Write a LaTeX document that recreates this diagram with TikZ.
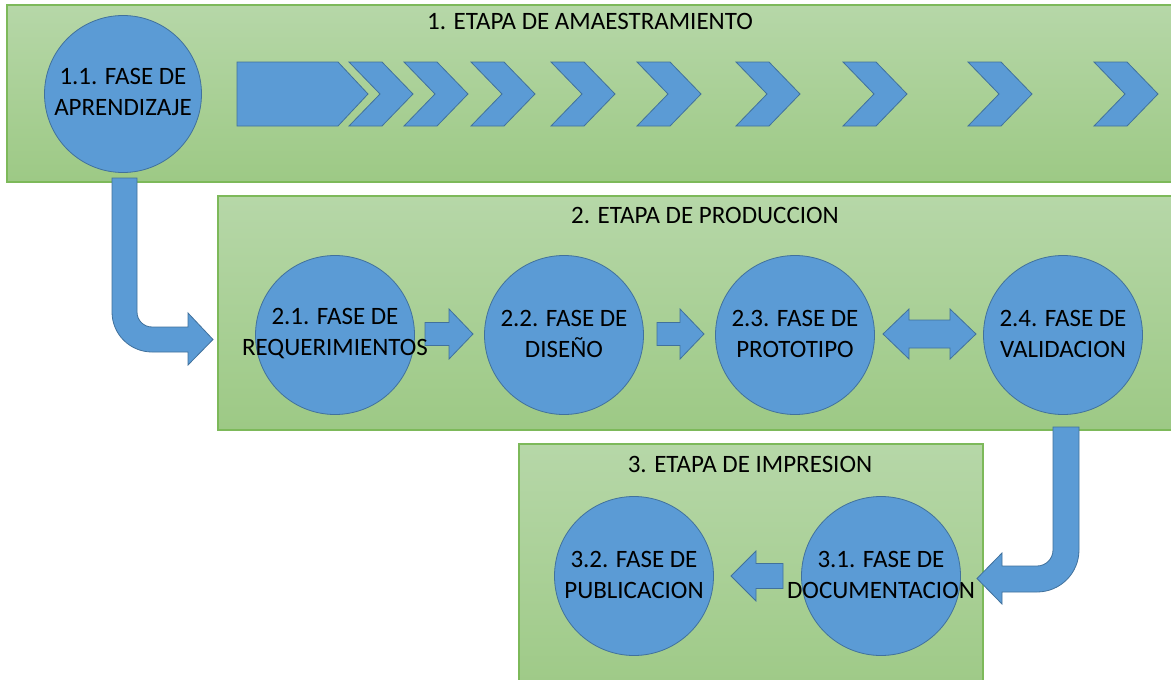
\documentclass[tikz,border=0pt]{standalone}
\usepackage{fontspec}
\setmainfont{Carlito}
\usetikzlibrary{calc}
\definecolor{cfill}{HTML}{5B9BD5}
\definecolor{cline}{HTML}{41719C}
\definecolor{gtop}{HTML}{B6D7A8}
\definecolor{gbot}{HTML}{9DC985}
\definecolor{gline}{HTML}{7DB95A}
\tikzset{
  stage/.style={rectangle, top color=gtop, bottom color=gbot, draw=gline, line width=1.2pt, inner sep=0pt},
  phase/.style={circle, fill=cfill, draw=cline, line width=0.8pt, minimum size=159pt, inner sep=0pt},
  ptext/.style={align=center, font=\fontsize{25}{31}\selectfont, inner sep=0pt, text=black},
  ttext/.style={font=\fontsize{25}{31}\selectfont, inner sep=0pt, text=black, anchor=base},
  blockarrow/.style={fill=cfill, draw=cline, line width=0.8pt, line join=miter},
}
% straight block arrow: start x, head base x, tip x, centre y, shaft half, head half
\newcommand\blkarrow[6]{%
  \draw[blockarrow] (#1,#4-#5) -- (#2,#4-#5) -- (#2,#4-#6) -- (#3,#4) -- (#2,#4+#6) -- (#2,#4+#5) -- (#1,#4+#5) -- cycle;}
\begin{document}
\begin{tikzpicture}[x=1pt,y=-1pt]
\useasboundingbox (0,0) rectangle (1171,680);
\clip (0,0) rectangle (1171,680);
\fill[white] (0,0) rectangle (1171,680);

% stages
\node[stage, minimum width=1170pt, minimum height=177pt] (s1) at (592,93.5) {};
\node[stage, minimum width=970pt, minimum height=234pt] (s2) at (703,313) {};
\node[stage, minimum width=464pt, minimum height=258pt] (s3) at (751,573) {};

\node[ttext] (t1) at (590,29) {1. ETAPA DE AMAESTRAMIENTO};
\node[ttext] (t2) at (705,223) {2. ETAPA DE PRODUCCION};
\node[ttext] (t3) at (750,472) {3. ETAPA DE IMPRESION};

% stage 1 arrows
\draw[blockarrow] (237,62) -- (338,62) -- (368,94) -- (338,126) -- (237,126) -- cycle;
\foreach \x in {349,404,471,551,637,736,843,968,1094}
  \draw[blockarrow] (\x,62) -- (\x+33,62) -- (\x+64,94) -- (\x+33,126) -- (\x,126) -- (\x+31,94) -- cycle;

% circles
\node[phase, minimum size=157pt] (c11) at (123,94) {};
\node[phase] (c21) at (335,335) {};
\node[phase] (c22) at (564,335) {};
\node[phase] (c23) at (795,335) {};
\node[phase] (c24) at (1063,335) {};
\node[phase] (c31) at (881,576) {};
\node[phase] (c32) at (634,576) {};

% straight arrows
\blkarrow{425}{449}{473}{334}{11.5}{25}
\blkarrow{657}{680}{704}{334}{11.5}{25}
\blkarrow{783}{756}{731}{576}{12.5}{25}
\draw[blockarrow] (883,334) -- (909,309) -- (909,320) -- (950,320) -- (950,309) -- (976,334)
  -- (950,359) -- (950,348) -- (909,348) -- (909,359) -- cycle;

% bent arrow 1 (from 1.1 to stage 2)
\draw[blockarrow] (112,178) -- (112,312) arc[start angle=180, end angle=90, radius=40]
  -- (188,352) -- (188,365) -- (213,339.5) -- (188,313) -- (188,327) -- (152,327)
  arc[start angle=90, end angle=180, radius=15] -- (137,178) -- cycle;

% bent arrow 2 (from stage 2 to 3.1)
\draw[blockarrow] (1053,427) -- (1079,427) -- (1079,550) arc[start angle=0, end angle=90, radius=42]
  -- (1002,592) -- (1002,604) -- (977,578.5) -- (1002,553) -- (1002,566) -- (1037,566)
  arc[start angle=90, end angle=0, radius=16] -- cycle;

% circle texts
\node[ptext, yshift=2pt] (l11) at (c11) {1.1. FASE DE\\APRENDIZAJE};
\node[ptext, yshift=1.5pt] (l21) at (c21) {2.1. FASE DE\\REQUERIMIENTOS};
\node[ptext, yshift=1.5pt] (l22) at (c22) {2.2. FASE DE\\DISEÑO};
\node[ptext, yshift=1.5pt] (l23) at (c23) {2.3. FASE DE\\PROTOTIPO};
\node[ptext, yshift=1.5pt] (l24) at (c24) {2.4. FASE DE\\VALIDACION};
\node[ptext, yshift=1pt] (l31) at (c31) {3.1. FASE DE\\DOCUMENTACION};
\node[ptext, yshift=1pt] (l32) at (c32) {3.2. FASE DE\\PUBLICACION};
\end{tikzpicture}
\end{document}
